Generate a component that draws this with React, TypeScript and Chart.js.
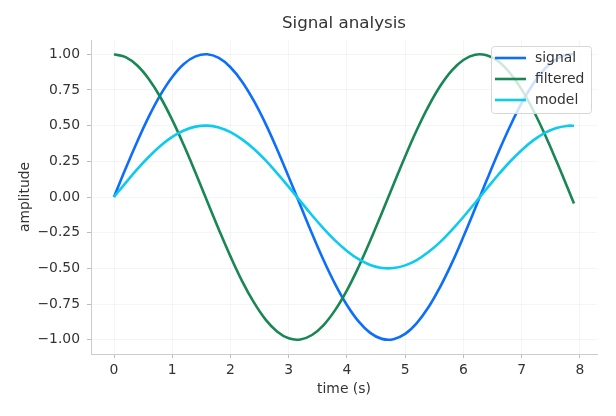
import React, { useEffect, useRef } from "react";
import { Chart, registerables } from "chart.js";

Chart.register(...registerables);

const TITLE = "Signal analysis";
const X_LABEL = "time (s)";
const Y_LABEL = "amplitude";

const timeValues = [
  0, 0.2, 0.4, 0.6, 0.8, 1.0, 1.2, 1.4, 1.6, 1.8, 2.0, 2.2, 2.4, 2.6, 2.8, 3.0, 3.2, 3.4, 3.6, 3.8,
  4.0, 4.2, 4.4, 4.6, 4.8, 5.0, 5.2, 5.4, 5.6, 5.8, 6.0, 6.2, 6.4, 6.6, 6.8, 7.0, 7.2, 7.4, 7.6, 7.8, 7.9,
];

const signalValues = [
  0, 0.199, 0.389, 0.565, 0.717, 0.841, 0.932, 0.985, 1.0, 0.974, 0.909, 0.808, 0.675, 0.516, 0.335,
  0.141, -0.058, -0.256, -0.443, -0.612, -0.757, -0.872, -0.952, -0.994, -0.996, -0.959, -0.883,
  -0.773, -0.631, -0.465, -0.279, -0.083, 0.117, 0.312, 0.494, 0.657, 0.794, 0.899, 0.968, 0.999, 0.999,
];

const filteredValues = [
  1.0, 0.98, 0.921, 0.825, 0.697, 0.54, 0.362, 0.17, -0.029, -0.227, -0.416, -0.589, -0.737, -0.857,
  -0.942, -0.99, -0.998, -0.967, -0.897, -0.791, -0.654, -0.49, -0.307, -0.112, 0.087, 0.284, 0.469,
  0.635, 0.776, 0.886, 0.96, 0.997, 0.993, 0.951, 0.869, 0.754, 0.608, 0.438, 0.25, 0.054, -0.046,
];

const modelValues = [
  0, 0.099, 0.195, 0.282, 0.359, 0.421, 0.466, 0.493, 0.5, 0.487, 0.455, 0.404, 0.338, 0.258, 0.167,
  0.071, -0.029, -0.128, -0.221, -0.306, -0.378, -0.436, -0.476, -0.497, -0.498, -0.479, -0.442,
  -0.386, -0.316, -0.232, -0.14, -0.042, 0.058, 0.156, 0.247, 0.328, 0.397, 0.45, 0.484, 0.499, 0.499,
];

const seriesNames = ["signal", "filtered", "model"];
const seriesColors = ["#0d6efd", "#198754", "#0dcaf0"];

const xTicks = [0, 1, 2, 3, 4, 5, 6, 7, 8];
const yTicks = [-1, -0.75, -0.5, -0.25, 0, 0.25, 0.5, 0.75, 1];

const FONT = "'DejaVu Sans', sans-serif";
const TEXT = "#333333";

const toPoints = (ys: number[]) => timeValues.map((x, i) => ({ x, y: ys[i] }));

const titlePlugin = {
  id: "customTitle",
  afterDraw(chart: any) {
    const { ctx, chartArea } = chart;
    ctx.save();
    ctx.font = `16.7px ${FONT}`;
    ctx.fillStyle = TEXT;
    ctx.textAlign = "center";
    ctx.textBaseline = "middle";
    ctx.fillText(TITLE, (chartArea.left + chartArea.right) / 2, 16);
    ctx.restore();
  },
};

const legendPlugin = {
  id: "customLegend",
  afterDatasetsDraw(chart: any) {
    const { ctx } = chart;
    const bx = 483;
    const by = 38;
    const bw = 100;
    const bh = 67;
    ctx.save();
    ctx.beginPath();
    ctx.roundRect(bx + 0.5, by + 0.5, bw, bh, 3);
    ctx.fillStyle = "rgba(255,255,255,0.8)";
    ctx.fill();
    ctx.strokeStyle = "#d6d6d6";
    ctx.lineWidth = 1;
    ctx.stroke();
    ctx.font = `13.9px ${FONT}`;
    ctx.textBaseline = "middle";
    ctx.textAlign = "left";
    seriesNames.forEach((name, i) => {
      const y = by + 12 + i * 21;
      ctx.beginPath();
      ctx.moveTo(bx + 4, y);
      ctx.lineTo(bx + 35, y);
      ctx.strokeStyle = seriesColors[i];
      ctx.lineWidth = 2.6;
      ctx.stroke();
      ctx.fillStyle = TEXT;
      ctx.fillText(name, bx + 44, y);
    });
    ctx.restore();
  },
};

export default function App() {
  const canvasRef = useRef<HTMLCanvasElement | null>(null);

  useEffect(() => {
    if (!canvasRef.current) return;
    const seriesData = [signalValues, filteredValues, modelValues];
    const chart = new Chart(canvasRef.current, {
      type: "line",
      data: {
        datasets: seriesNames.map((name, i) => ({
          label: name,
          data: toPoints(seriesData[i]),
          borderColor: seriesColors[i],
          backgroundColor: seriesColors[i],
          borderWidth: 2.6,
          pointRadius: 0,
          tension: 0.4,
          fill: false,
          order: 2 - i,
        })),
      },
      options: {
        responsive: false,
        animation: false,
        layout: { padding: { top: 32, right: 11, bottom: 0, left: 0 } },
        plugins: {
          legend: { display: false },
          title: { display: false },
          tooltip: { enabled: false },
        },
        scales: {
          x: {
            type: "linear",
            min: -0.395,
            max: 8.295,
            afterBuildTicks: (s: any) => {
              s.ticks = xTicks.map((v) => ({ value: v }));
            },
            afterFit: (s: any) => {
              s.height = 54;
            },
            ticks: {
              color: TEXT,
              font: { family: FONT, size: 13.9 },
              padding: 4,
              maxRotation: 0,
              autoSkip: false,
              callback: (v: any) => String(v),
            },
            grid: {
              color: "rgba(0,0,0,0.04)",
              tickColor: "#bbbbbb",
              tickLength: 4,
              lineWidth: 1,
            },
            border: { color: "#cccccc", width: 1 },
            title: {
              display: true,
              text: X_LABEL,
              color: TEXT,
              font: { family: FONT, size: 13.9 },
              padding: { top: 0, bottom: 10.7 },
            },
          },
          y: {
            type: "linear",
            min: -1.1,
            max: 1.1,
            afterBuildTicks: (s: any) => {
              s.ticks = yTicks.map((v) => ({ value: v }));
            },
            afterFit: (s: any) => {
              s.width = 83;
            },
            ticks: {
              color: TEXT,
              font: { family: FONT, size: 13.9 },
              padding: 7,
              autoSkip: false,
              callback: (v: any) => Number(v).toFixed(2).replace("-", "\u2212"),
            },
            grid: {
              color: "rgba(0,0,0,0.04)",
              tickColor: "#bbbbbb",
              tickLength: 4,
              lineWidth: 1,
            },
            border: { color: "#cccccc", width: 1 },
            title: {
              display: true,
              text: Y_LABEL,
              color: TEXT,
              font: { family: FONT, size: 13.9 },
              padding: { top: 9, bottom: 0 },
            },
          },
        },
      },
      plugins: [titlePlugin, legendPlugin],
    } as any);
    return () => chart.destroy();
  }, []);

  return (
    <div style={{ width: 600, height: 400 }}>
      <canvas ref={canvasRef} width={600} height={400} />
    </div>
  );
}
